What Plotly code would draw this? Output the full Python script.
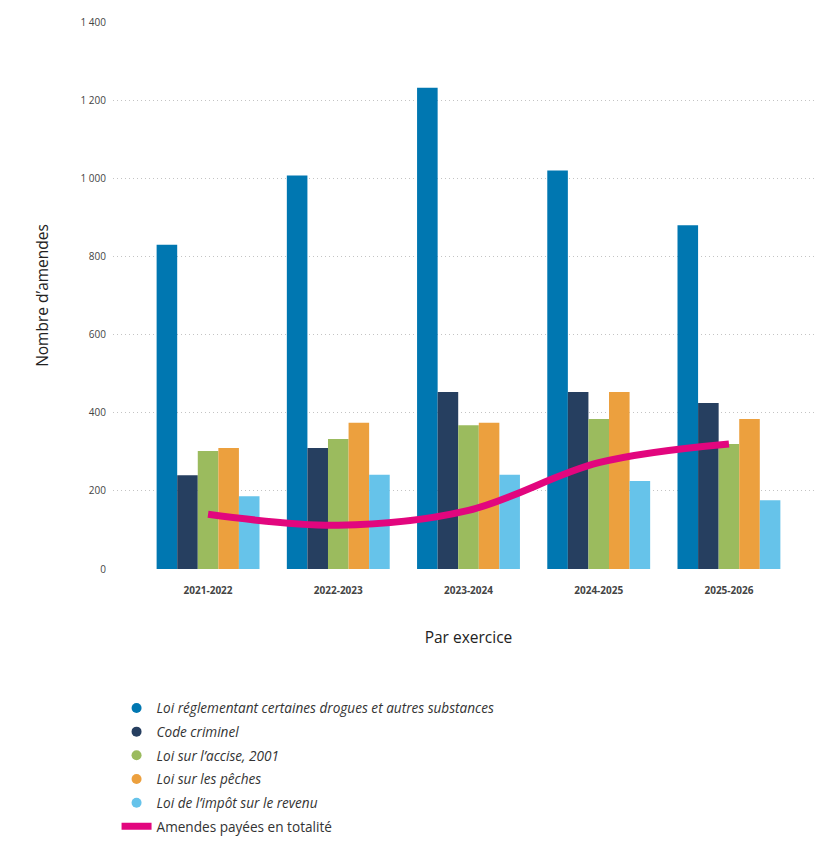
import plotly.graph_objects as go

categories = ["2021-2022", "2022-2023", "2023-2024", "2024-2025", "2025-2026"]
drogues = [830, 1007, 1232, 1020, 880]
criminel = [240, 310, 453, 453, 425]
accise = [302, 333, 368, 384, 320]
peches = [310, 374, 374, 453, 384]
impot = [186, 241, 241, 225, 176]
payees = [140, 112, 150, 272, 320]

series_names = [
    "Loi réglementant certaines drogues et autres substances",
    "Code criminel",
    "Loi sur l’accise, 2001",
    "Loi sur les pêches",
    "Loi de l’impôt sur le revenu",
]
series_values = [drogues, criminel, accise, peches, impot]
colors = ["#0077b1", "#263f60", "#9bbb5e", "#eca03e", "#66c3ea"]
line_name = "Amendes payées en totalité"
line_color = "#e2067e"

font_family = "Open Sans, Lato, sans-serif"

fig = go.Figure()
for name, vals, col in zip(series_names, series_values, colors):
    fig.add_trace(go.Bar(x=categories, y=vals, name=name, marker_color=col,
                         marker_line_width=0, showlegend=False))

fig.add_trace(go.Scatter(x=categories, y=payees, mode="lines", name=line_name,
                         line=dict(color=line_color, width=7, shape="spline", smoothing=1),
                         showlegend=False))

# legend entries (circles for bar series, line for the curve)
for i, (name, col) in enumerate(zip(series_names, colors)):
    fig.add_trace(go.Scatter(x=[None], y=[None], mode="markers", name="<i>" + name + "</i>",
                             legendgroup="g%d" % i,
                             marker=dict(color=col, size=10, symbol="circle")))
fig.add_trace(go.Scatter(x=[None], y=[None], mode="lines", name=line_name,
                         legendgroup="gline",
                         line=dict(color=line_color, width=7)))

fig.update_layout(
    width=816, height=849,
    margin=dict(l=105, r=0, t=14, b=288),
    plot_bgcolor="white", paper_bgcolor="white",
    barmode="group", bargap=0.21, bargroupgap=0,
    separators=", ",
    font=dict(family=font_family, color="#333333"),
    xaxis=dict(
        type="category", range=[-0.73, 4.73],
        tickfont=dict(size=10, color="#444444", family=font_family, weight="bold"),
        showgrid=False, zeroline=False, showline=False, ticks="", ticklabelstandoff=14,
        title=dict(text="Par exercice", font=dict(size=15.5, color="#222222"), standoff=36),
    ),
    yaxis=dict(
        range=[0, 1400], tickvals=[0, 200, 400, 600, 800, 1000, 1200, 1400],
        tickformat=",d",
        tickfont=dict(size=10, color="#444444", family=font_family),
        showgrid=True, gridcolor="#c4c4c4", griddash="1px,3px", gridwidth=1,
        zeroline=False, showline=False, ticks="", ticklabelstandoff=6,
        title=dict(text="Nombre d’amendes", font=dict(size=15.5, color="#222222"), standoff=28),
    ),
    legend=dict(
        x=0.005, y=-0.226, xref="paper", yref="paper",
        xanchor="left", yanchor="top", orientation="v",
        font=dict(size=13.6, color="#333333", family=font_family),
        itemwidth=30, tracegroupgap=3,
        bgcolor="rgba(0,0,0,0)",
    ),
)

fig.write_html("out.html")
